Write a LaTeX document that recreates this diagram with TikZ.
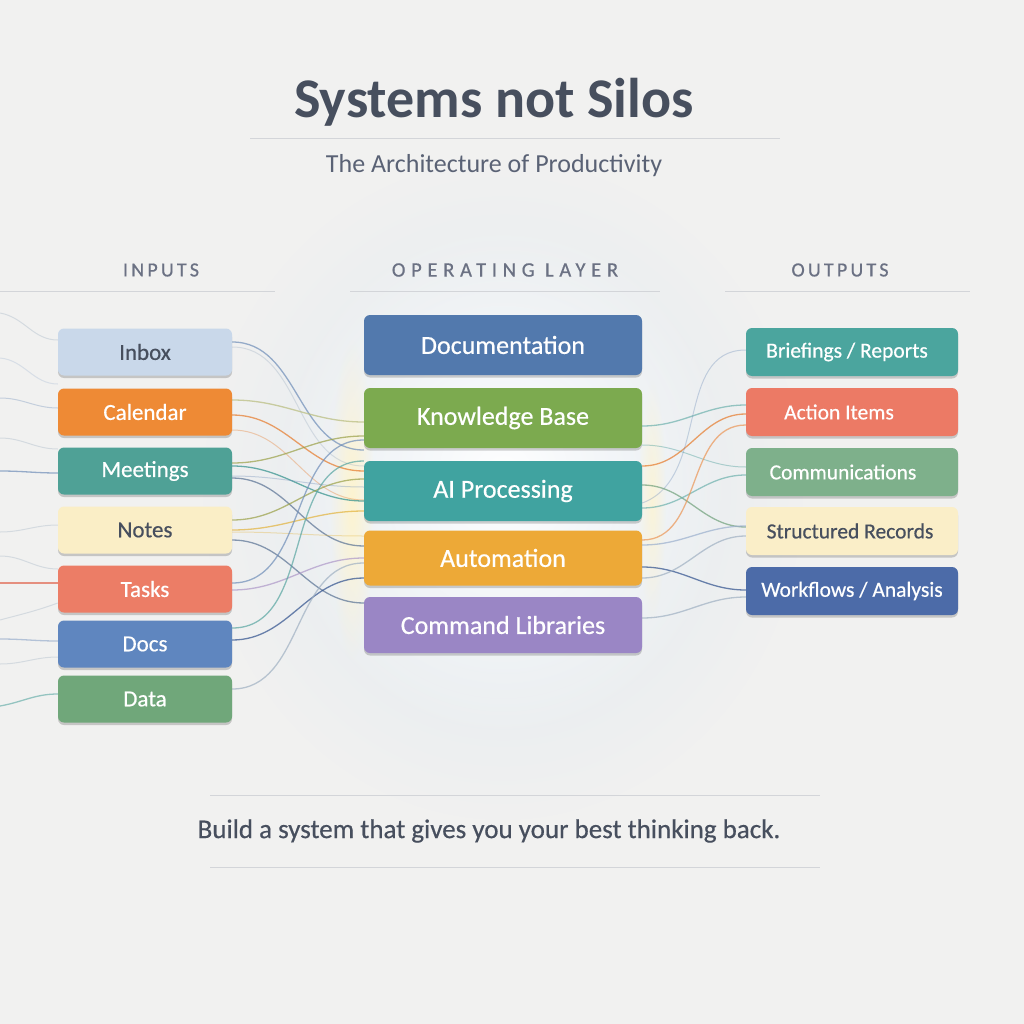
\documentclass[tikz,border=0pt]{standalone}
\usepackage{fontspec}
\setmainfont{Carlito}
\newfontfamily\medfont[FakeBold=0.5]{Carlito}
\newfontfamily\spacedfont[LetterSpace=16,FakeBold=0.6]{Carlito}
\newfontfamily\widefont[LetterSpace=28,FakeBold=0.6]{Carlito}
\usetikzlibrary{calc,shadows,fadings}
\tikzfading[name=glowfade, inner color=transparent!0, outer color=transparent!100]
\pgfdeclarelayer{backdrop}
\pgfdeclarelayer{wires}
\pgfsetlayers{backdrop,wires,main}
\definecolor{bg}{HTML}{F1F1F0}
\definecolor{glowblue}{HTML}{DDE8F2}
\definecolor{glowyel}{HTML}{FFF4CC}
\definecolor{ink}{HTML}{474F5E}
\definecolor{subink}{HTML}{5A6275}
\definecolor{headink}{HTML}{6B7183}
\definecolor{rule}{HTML}{D3D5D9}
% box colours
\definecolor{cInbox}{HTML}{C9D8EA}
\definecolor{cCal}{HTML}{EE8A35}
\definecolor{cMeet}{HTML}{4FA196}
\definecolor{cNotes}{HTML}{FAEEC6}
\definecolor{cTasks}{HTML}{EC7D66}
\definecolor{cDocs}{HTML}{5F86BF}
\definecolor{cData}{HTML}{70A77A}
\definecolor{cDocu}{HTML}{5279AD}
\definecolor{cKB}{HTML}{7CAA4F}
\definecolor{cAI}{HTML}{40A3A0}
\definecolor{cAuto}{HTML}{EDA937}
\definecolor{cCmd}{HTML}{9A86C5}
\definecolor{cBrief}{HTML}{4BA59E}
\definecolor{cAct}{HTML}{EC7A65}
\definecolor{cComm}{HTML}{7EB08B}
\definecolor{cRec}{HTML}{FAEEC8}
\definecolor{cWork}{HTML}{4C6BA8}
% line colours
\definecolor{lBlue}{HTML}{6E8DB8}
\definecolor{lGray}{HTML}{9FB0C2}
\definecolor{lOr}{HTML}{E67A2A}
\definecolor{lOlive}{HTML}{9AA046}
\definecolor{lTeal}{HTML}{2F8F8A}
\definecolor{lYel}{HTML}{E2B23A}
\definecolor{lRed}{HTML}{E06650}
\definecolor{lPur}{HTML}{8A6BB0}
\definecolor{lNavy}{HTML}{2E4F8C}
\definecolor{lGreen}{HTML}{6FA07A}
\tikzset{
  box/.style={rounded corners=6pt, inner sep=0pt, align=center,
    drop shadow={shadow xshift=0pt, shadow yshift=-2.5pt, opacity=0.18, fill=black}},
  inbox/.style={box, minimum width=174pt, minimum height=47pt, font=\medfont\fontsize{23}{26}\selectfont},
  midbox/.style={box, minimum width=278pt, font=\medfont\fontsize{26}{30}\selectfont},
  outbox/.style={box, minimum width=212pt, minimum height=48pt, font=\medfont\fontsize{21.5}{24}\selectfont},
  wtext/.style={text=white},
  dtext/.style={text=ink},
  wire/.style={line width=1.3pt, opacity=0.7},
  faint/.style={line width=1pt, opacity=0.35},
  hdr/.style={text=headink, font=\spacedfont\fontsize{20}{24}\selectfont},
  widehdr/.style={text=headink, font=\widefont\fontsize{20.5}{24}\selectfont},
  rulel/.style={draw=rule, line width=1pt}
}
\begin{document}
\begin{tikzpicture}[x=1pt,y=-1pt]
\useasboundingbox (0,0) rectangle (1024,1024);
\begin{pgfonlayer}{backdrop}
\fill[bg] (0,0) rectangle (1024,1024);
% glow around operating layer
\fill[color=glowblue, path fading=glowfade, opacity=0.9] (503,490) ellipse (300 and 330);
\fill[color=white, path fading=glowfade, opacity=1] (503,480) ellipse (230 and 260);
\fill[color=glowyel, path fading=glowfade, opacity=0.9] (352,500) ellipse (22 and 160);
\fill[color=glowyel, path fading=glowfade, opacity=0.7] (652,500) ellipse (14 and 120);
\end{pgfonlayer}

% title
\node[text=ink, font=\fontsize{56}{60}\selectfont\bfseries] (title) at (494,102) {Systems not Silos};
\draw[rulel] (250,139) -- (780,139);
\node[text=subink, font=\fontsize{26}{30}\selectfont] (sub) at (494,166) {The Architecture of Productivity};

% headers
\node[hdr] (hin) at (161,270) {INPUTS};
\node[widehdr] (hmid) at (505,270) {OPERATING LAYER};
\node[hdr] (hout) at (840,270) {OUTPUTS};
\draw[rulel] (0,291) -- (275,291);
\draw[rulel] (350,291) -- (660,291);
\draw[rulel] (725,291) -- (970,291);

% left free ends
\coordinate (e1) at (0,313);
\coordinate (e2) at (0,358);
\coordinate (e3) at (0,398);
\coordinate (e4) at (0,438);
\coordinate (e5) at (0,471);
\coordinate (e6) at (0,532);
\coordinate (e7) at (0,556);
\coordinate (e8) at (0,583);
\coordinate (e9) at (0,620);
\coordinate (e10) at (0,639);
\coordinate (e11) at (0,664);
\coordinate (e12) at (0,706);

% input nodes
\node[inbox, fill=cInbox, dtext] (inbox) at (145,352) {Inbox};
\node[inbox, fill=cCal, wtext] (cal) at (145,412) {Calendar};
\node[inbox, fill=cMeet, wtext] (meet) at (145,471) {Meetings};
\node[inbox, fill=cNotes, dtext] (notes) at (145,530) {Notes};
\node[inbox, fill=cTasks, wtext] (tasks) at (145,589) {Tasks};
\node[inbox, fill=cDocs, wtext] (docs) at (145,644) {Docs};
\node[inbox, fill=cData, wtext] (data) at (145,699) {Data};

% middle nodes
\node[midbox, fill=cDocu, wtext, minimum height=60pt] (docu) at (503,345) {Documentation};
\node[midbox, fill=cKB, wtext, minimum height=60pt] (kb) at (503,418) {Knowledge Base};
\node[midbox, fill=cAI, wtext, minimum height=60pt] (ai) at (503,491) {AI Processing};
\node[midbox, fill=cAuto, wtext, minimum height=55pt] (auto) at (503,558) {Automation};
\node[midbox, fill=cCmd, wtext, minimum height=56pt] (cmd) at (503,625) {Command Libraries};

% output nodes
\node[outbox, fill=cBrief, wtext] (brief) at (852,352) {\hspace*{-10pt}Briefings / Reports};
\node[outbox, fill=cAct, wtext] (act) at (852,412) {\hspace*{-26pt}Action Items};
\node[outbox, fill=cComm, wtext] (comm) at (852,472) {\hspace*{-18pt}Communications};
\node[outbox, fill=cRec, dtext] (rec) at (852,531) {\hspace*{-4pt}Structured Records};
\node[outbox, fill=cWork, wtext] (work) at (852,591) {Workflows / Analysis};

\begin{pgfonlayer}{wires}
% left edge -> inputs
\draw[faint, lGray] (e1) to[out=-10,in=180] ($(inbox.west)+(0,-12)$);
\draw[faint, lBlue!60] (e2) to[out=-5,in=180] ($(inbox.west)+(0,32)$);
\draw[faint, lBlue] (e3) to[out=0,in=180] ($(cal.west)+(0,-4)$);
\draw[faint, lGray] (e4) to[out=0,in=180] ($(meet.west)+(0,-22)$);
\draw[wire, lBlue] (e5) to[out=0,in=180] ($(meet.west)+(0,2)$);
\draw[faint, lGray] (e6) to[out=0,in=180] ($(notes.west)+(0,-5)$);
\draw[faint, lGray] (e7) to[out=0,in=180] ($(tasks.west)+(0,-20)$);
\draw[wire, lRed] (e8) to[out=0,in=180] ($(tasks.west)+(0,-6)$);
\draw[faint, lGray] (e9) to[out=15,in=200] ($(tasks.west)+(0,14)$);
\draw[wire, lBlue!70] (e10) to[out=0,in=180] ($(docs.west)+(0,-3)$);
\draw[faint, lGray] (e11) to[out=0,in=180] ($(docs.west)+(0,13)$);
\draw[wire, lTeal!70] (e12) to[out=10,in=180] ($(data.west)+(0,-5)$);

% inputs -> operating layer
\draw[wire, lBlue] ($(inbox.east)+(0,-10)$) to[out=0,in=180] ($(ai.west)+(0,-41)$);
\draw[faint, lGray] ($(inbox.east)+(0,-5)$) to[out=0,in=180] ($(ai.west)+(0,-25)$);
\draw[wire, lOlive!70] ($(cal.east)+(0,-12)$) to[out=0,in=180] ($(kb.west)+(0,4)$);
\draw[wire, lOr] ($(cal.east)+(0,3)$) to[out=0,in=180] ($(ai.west)+(0,-20)$);
\draw[faint, lOr] ($(cal.east)+(0,18)$) to[out=0,in=180] ($(ai.west)+(0,9)$);
\draw[wire, lOlive] ($(meet.east)+(0,-8)$) to[out=0,in=180] ($(kb.west)+(0,18)$);
\draw[wire, lTeal] ($(meet.east)+(0,-5)$) to[out=0,in=180] ($(ai.west)+(0,10)$);
\draw[faint, lBlue] ($(meet.east)+(0,5)$) to[out=0,in=180] ($(ai.west)+(0,-4)$);
\draw[wire, lBlue!80!black] ($(meet.east)+(0,7)$) to[out=0,in=180] ($(auto.west)+(0,-12)$);
\draw[wire, lOlive] ($(notes.east)+(0,-10)$) to[out=0,in=180] ($(ai.west)+(0,-12)$);
\draw[wire, lYel] ($(notes.east)+(0,0)$) to[out=0,in=180] ($(ai.west)+(0,20)$);
\draw[faint, lYel] ($(notes.east)+(0,2)$) to[out=0,in=180] ($(auto.west)+(0,-22)$);
\draw[wire, lBlue!80!black] ($(notes.east)+(0,10)$) to[out=0,in=180] ($(cmd.west)+(0,-22)$);
\draw[wire, lBlue] ($(tasks.east)+(0,-6)$) to[out=0,in=180] ($(kb.west)+(0,22)$);
\draw[wire, lPur!70] ($(tasks.east)+(0,1)$) to[out=0,in=180] ($(auto.west)+(0,0)$);
\draw[wire, lTeal!80] ($(docs.east)+(0,-16)$) to[out=0,in=180] ($(ai.west)+(0,-30)$);
\draw[wire, lNavy] ($(docs.east)+(0,-4)$) to[out=0,in=180] ($(auto.west)+(0,20)$);
\draw[wire, lGray] ($(data.east)+(0,-10)$) to[out=0,in=180] ($(auto.west)+(0,5)$);

% operating layer -> outputs
\draw[wire, lTeal!70] ($(kb.east)+(0,8)$) to[out=0,in=180] ($(act.west)+(0,-7)$);
\draw[faint, lTeal] ($(kb.east)+(0,27)$) to[out=0,in=180] ($(comm.west)+(0,-5)$);
\draw[wire, lOr] ($(ai.east)+(0,-25)$) to[out=0,in=180] ($(act.west)+(0,2)$);
\draw[faint, lBlue] ($(ai.east)+(0,12)$) to[out=20,in=180] ($(brief.west)+(0,-2)$);
\draw[wire, lGreen] ($(ai.east)+(0,-6)$) to[out=0,in=180] ($(rec.west)+(0,-4)$);
\draw[wire, lTeal!70] ($(ai.east)+(0,17)$) to[out=0,in=180] ($(comm.west)+(0,3)$);
\draw[wire, lOr!80] ($(auto.east)+(0,-18)$) to[out=0,in=180] ($(act.west)+(0,13)$);
\draw[wire, lBlue!70] ($(auto.east)+(0,-13)$) to[out=0,in=180] ($(rec.west)+(0,-5)$);
\draw[wire, lNavy] ($(auto.east)+(0,9)$) to[out=0,in=180] ($(work.west)+(0,-1)$);
\draw[wire, lGray] ($(auto.east)+(0,20)$) to[out=0,in=180] ($(rec.west)+(0,5)$);
\draw[wire, lGray] ($(cmd.east)+(0,-7)$) to[out=0,in=180] ($(work.west)+(0,6)$);
\end{pgfonlayer}

% footer
\draw[rulel] (210,795) -- (820,795);
\node[text=ink, font=\medfont\fontsize{27}{30}\selectfont] (foot) at (489,831) {Build a system that gives you your best thinking back.};
\draw[rulel] (210,867) -- (820,867);
\end{tikzpicture}
\end{document}
